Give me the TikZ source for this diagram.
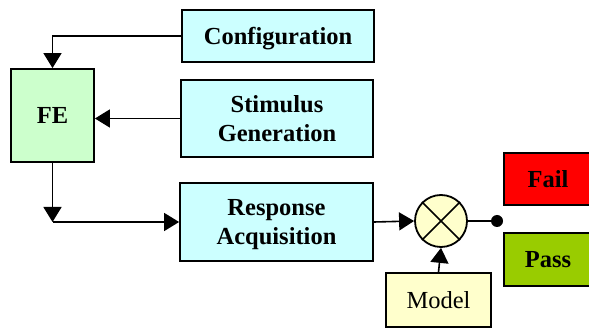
\documentclass[tikz,border=0pt]{standalone}
\usepackage{fontspec}
\setmainfont{Liberation Serif}
\usetikzlibrary{arrows.meta}
\definecolor{cfgcyan}{HTML}{CCFFFF}
\definecolor{fegreen}{HTML}{CCFFCC}
\definecolor{pale}{HTML}{FFFFCC}
\definecolor{failred}{HTML}{FF0000}
\definecolor{passgreen}{HTML}{99CC00}
\begin{document}
\begin{tikzpicture}[x=1pt,y=-1pt,
  blk/.style={draw=black,line width=1.8pt,align=center,inner sep=0pt,text depth=0pt,
    font=\fontsize{24.5}{29}\selectfont\bfseries},
  link/.style={line width=1.6pt,-{Triangle[length=15pt,width=18pt]}},
  wire/.style={line width=1.6pt}]
\useasboundingbox (0,0) rectangle (589,328);

\node[blk,fill=cfgcyan,minimum width=192pt,minimum height=52pt] (cfg) at (278,36) {Configuration};
\node[blk,fill=cfgcyan,minimum width=192pt,minimum height=77pt] (stim) at (277,118.5) {Stimulus\\Generation};
\node[blk,fill=fegreen,minimum width=83pt,minimum height=93pt] (fe) at (52.5,115.5) {FE};
\node[blk,fill=cfgcyan,minimum width=193pt,minimum height=78pt] (resp) at (276.5,222) {Response\\Acquisition};
\node[draw=black,line width=1.8pt,fill=pale,circle,minimum size=52pt,inner sep=0pt] (cmp) at (441,221) {};
\draw[line width=1.6pt] (cmp.north west) -- (cmp.south east) (cmp.north east) -- (cmp.south west);
\node[fill=black,circle,minimum size=12pt,inner sep=0pt] (dot) at (497,221) {};
\node[blk,fill=failred,minimum width=88pt,minimum height=52pt] (fail) at (548,179) {Fail};
\node[blk,fill=passgreen,minimum width=88pt,minimum height=53pt] (pass) at (548,259.5) {Pass};
\node[blk,fill=pale,minimum width=105pt,minimum height=54pt,font=\fontsize{24.5}{29}\selectfont] (model) at (438.5,300) {Model};

\coordinate (turn) at (fe.south |- resp.west);
\draw[link] (cfg.west) -| (fe.north);
\draw[link] (stim.west) -- (stim.west -| fe.east);
\draw[link] (fe.south) -- (turn);
\draw[link] (turn) -- (resp.west);
\draw[link] (resp.east) -- (cmp.west);
\draw[wire] (cmp.east) -- (dot);
\draw[link] (model.north) -- (cmp.south);
\end{tikzpicture}
\end{document}
